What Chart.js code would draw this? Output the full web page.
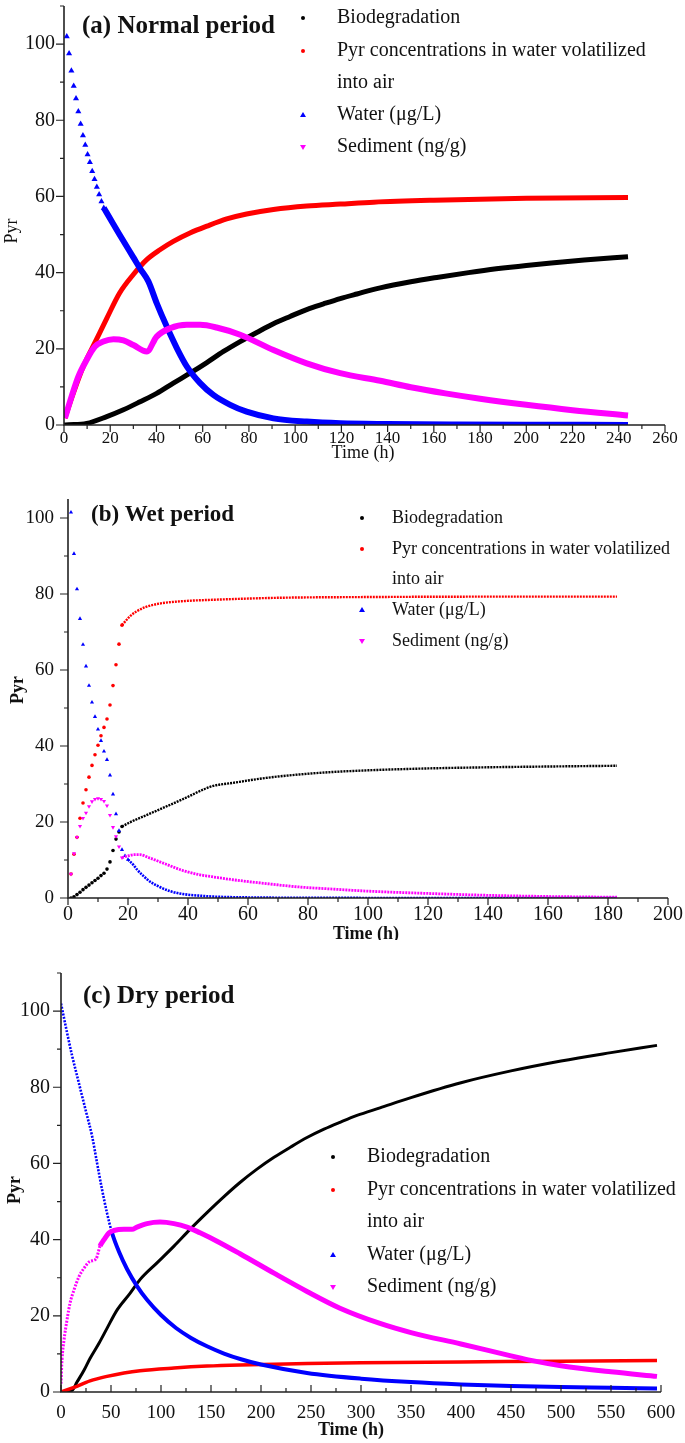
<!DOCTYPE html>
<html>
<head>
<meta charset="utf-8">
<script src="https://cdn.jsdelivr.net/npm/chart.js@4.4.1/dist/chart.umd.min.js"></script>
<style>
  html, body { margin: 0; padding: 0; background: #fff; }
  #wrap { position: relative; width: 685px; height: 1443px; }
  canvas { position: absolute; left: 0; }
</style>
</head>
<body>
<div id="wrap">
  <canvas id="chartA" width="685" height="462" style="top:0"></canvas>
  <canvas id="chartB" width="685" height="478" style="top:462px"></canvas>
  <canvas id="chartC" width="685" height="503" style="top:940px"></canvas>
</div>
<script>
const FONT = '"Liberation Serif", "Times New Roman", serif';
const BLACK = '#000000', RED = '#ff0000', BLUE = '#0000ff', MAG = '#ff00ff';

// ── (a) Normal period ── [time (h), Pyr]
const aXTicks = [0, 20, 40, 60, 80, 100, 120, 140, 160, 180, 200, 220, 240, 260];
const aYTicks = [0, 20, 40, 60, 80, 100];
const aBio = [[0,0],[2,0.05],[9.8,0.4],[18.5,2.2],[25.7,4],[32.9,6.1],[40.1,8.3],[47.3,11],[54.5,13.6],[61.8,16.4],[69,19.3],[76.2,21.9],[83.4,24.3],[90.6,26.6],[97.8,28.5],[105,30.3],[112.3,31.8],[119.5,33.2],[126.7,34.4],[136.8,36],[150,37.6],[162,38.8],[175,40],[187,41],[200,41.9],[212,42.6],[225,43.3],[244,44.2]];
const aAir = [[0.4,1.8],[4,8.3],[8.4,15.4],[14,22.4],[18.5,28],[24,34.6],[30,39.5],[35.8,43.4],[41.5,46],[47.3,48.2],[54.5,50.4],[61.8,52.2],[70.4,54.1],[79,55.4],[90.6,56.6],[105,57.5],[119.5,58],[134,58.5],[160,59],[200,59.5],[244,59.7]];
const aWaterDots = [[1.2,102],[2.2,97.5],[3.2,93],[4.2,89],[5.2,85.7],[6.2,82.3],[7.2,79],[8.2,76],[9.2,73.5],[10.2,71],[11.2,69],[12.2,66.6],[13.2,64.5],[14.2,62.5],[15.2,60.5],[16.2,58.7],[17.2,57]];
const aWater = [[17.2,57],[18.5,55.7],[24,50],[30,44],[33,41],[36.5,37.7],[40.1,32],[44.4,25.9],[48.8,20.2],[53.1,15.4],[58.9,11],[64.6,7.9],[71.9,5.3],[79,3.5],[90.6,1.75],[105,0.9],[119.5,0.45],[140,0.25],[170,0.12],[200,0.06],[244,0.03]];
const aSed = [[0.4,1.8],[3.3,7.5],[6.2,12.7],[9.8,17.1],[13.4,20.6],[17,21.9],[21.4,22.5],[25.7,22.2],[30,21],[35.8,19.3],[40.1,23.2],[45.9,25.4],[53.1,26.3],[58.9,26.3],[66,25.6],[76.2,23.7],[90.6,19.7],[105,16.2],[119.5,13.6],[136.8,11.6],[150,9.9],[165,8.3],[180,6.9],[200,5.3],[220,3.9],[244,2.5]];

// ── (b) Wet period ──
const bXTicks = [0, 20, 40, 60, 80, 100, 120, 140, 160, 180, 200];
const bYTicks = [0, 20, 40, 60, 80, 100];
const bBioDots = [[1,0],[2,0.3],[3,0.9],[4,1.5],[5,2.2],[6,2.8],[7,3.4],[8,4],[9,4.6],[10,5.2],[11,5.9],[12,6.5],[13,7.6],[14,9.5],[15,12.5],[16,15.5],[17,17.4],[18,18.8]];
const bBio = [[18,18.8],[20.6,19.9],[27,22.1],[38,25.9],[48,29.4],[55,30.3],[66,31.6],[77,32.5],[87,33.1],[100,33.6],[120,34.1],[140,34.4],[160,34.6],[183,34.8]];
const bAirDots = [[1,6.3],[2,11.5],[3,16],[4,21],[5,25],[6,28.5],[7,31.8],[8,34.9],[9,37.7],[10,40.2],[11,42.7],[12,44.9],[13,47.1],[14,50.8],[15,55.9],[16,61.4],[17,66.8],[18,71.8]];
const bAir = [[18,71.8],[20.6,74.1],[22.8,75.4],[26,76.6],[30.6,77.5],[38,78.1],[49,78.5],[70,79],[100,79.2],[140,79.3],[183,79.3]];
const bWaterDots = [[1,101.5],[2,90.6],[3,81.3],[4,73.5],[5,66.7],[6,61],[7,55.9],[8,51.5],[9,47.7],[10,44.4],[11,41.4],[12,38.6],[13,36.4],[14,32.3],[15,27.3],[16,22.1],[17,17.7],[18,12.7],[19,11.1],[20,10.1]];
const bWater = [[20,10.1],[21.7,8.8],[23,7.5],[25,5.9],[27.2,4.4],[30.6,2.9],[34,1.8],[38.3,1.05],[44,0.6],[49,0.35],[60,0.15],[80,0.05],[120,0.01],[183,0]];
const bSedDots = [[1,6.3],[2,11.7],[3,16],[4,18.9],[5,21],[6,22.4],[7,24.1],[8,25.4],[9,26],[10,26.2],[11,26],[12,25.5],[13,24.3],[14,21.8],[15,18.6],[16,16.2],[17,13.5],[18,10.6]];
const bSed = [[18,10.6],[20,11.1],[22,11.4],[24,11.4],[27,10.6],[33,8.8],[38,7.3],[44,6.1],[48,5.6],[55,4.8],[66,3.8],[77,2.9],[87,2.4],[100,1.8],[120,1.2],[140,0.7],[160,0.4],[183,0.2]];

// ── (c) Dry period ──
const cXTicks = [0, 50, 100, 150, 200, 250, 300, 350, 400, 450, 500, 550, 600];
const cYTicks = [0, 20, 40, 60, 80, 100];
const cBio = [[0,0],[11,0.4],[16,2.6],[23,5.7],[29,8.8],[38,12.8],[46,16.7],[56,21.5],[69,25.9],[79,29.5],[96,33.9],[113,38.3],[129,42.7],[146,47.1],[163,51.3],[179,55],[196,58.5],[213,61.6],[229,64.2],[246,66.8],[263,69],[279,70.8],[296,72.6],[319,74.6],[350,77.3],[400,81.2],[450,84.3],[500,86.9],[550,89.1],[596,91]];
const cAir = [[0,0],[13,1.2],[29,2.9],[46,4.1],[63,5],[79,5.6],[113,6.3],[146,6.8],[179,7.1],[213,7.3],[246,7.5],[300,7.7],[400,7.9],[500,8.1],[596,8.3]];
const cWater = [[0,102],[6,94.4],[11,88.4],[16,83.1],[21,77.8],[26,72.6],[31,67.3],[36,60.2],[41,53.2],[46,47],[51,41.8],[58,36.8],[66,32.3],[76,27.8],[86,24.2],[100,20.2],[115,16.8],[130,14.2],[146,12],[163,10.1],[180,8.6],[200,7.2],[246,5],[300,3.5],[350,2.6],[400,2],[450,1.6],[500,1.3],[550,1.1],[596,0.9]];
const cSed = [[0,2.2],[1,8.4],[3,13.6],[6,18.9],[9,23.3],[13,26.8],[18,30.3],[23,32.5],[29,34.3],[35,34.9],[39,38.3],[43,40],[48,41.8],[53,42.4],[63,42.7],[71,42.7],[76,43.3],[86,44.2],[99,44.6],[113,44.2],[126,43.3],[139,41.8],[156,39.6],[179,36.3],[213,31.2],[246,26.4],[279,22],[319,18],[350,15.6],[400,12.6],[450,9.5],[470,8.3],[500,6.9],[550,5.3],[596,4.1]];

const legendItems = [
  { lines: ['Biodegradation'], color: BLACK, style: 'circle' },
  { lines: ['Pyr concentrations in water volatilized', 'into air'], color: RED, style: 'circle' },
  { lines: ['Water (μg/L)'], color: BLUE, style: 'up' },
  { lines: ['Sediment (ng/g)'], color: MAG, style: 'down' }
];

const xy = d => d.map(([x, y]) => ({ x, y }));

function lineSet(data, color, o) {
  const ds = {
    data: xy(data), showLine: true, borderColor: color, backgroundColor: color,
    borderWidth: o.width, borderDash: o.dash || [], pointRadius: 0, pointHoverRadius: 0,
    borderJoinStyle: 'round', cubicInterpolationMode: 'monotone', order: o.order
  };
  if (o.until) {
    ds.segment = {
      borderDash: c => c.p1.parsed.x <= o.until ? o.thinDash : [],
      borderWidth: c => c.p1.parsed.x <= o.until ? o.thin : o.width
    };
  }
  return ds;
}

function dotSet(data, color, style, r, order) {
  return {
    data: xy(data), showLine: false, pointStyle: style === 'circle' ? 'circle' : 'triangle',
    pointRotation: style === 'down' ? 180 : 0, pointRadius: r, pointHoverRadius: r,
    pointBackgroundColor: color, pointBorderColor: color, pointBorderWidth: 0, order: order
  };
}

function scales(o) {
  const tickFont = size => ({ family: FONT, size: size });
  return {
    x: {
      type: 'linear', min: 0, max: o.xMax,
      afterBuildTicks: s => { s.ticks = o.xTicks.map(v => ({ value: v })); },
      afterFit: s => { s.height = o.xH; s.paddingLeft = 0; s.paddingRight = 0; },
      grid: { display: false, drawTicks: false }, border: { display: false },
      ticks: { color: '#111', font: tickFont(o.xFont), padding: o.xPad, maxRotation: 0, autoSkip: false }
    },
    y: {
      type: 'linear', min: 0, max: o.yMax,
      afterBuildTicks: s => { s.ticks = o.yTicks.map(v => ({ value: v })); },
      afterFit: s => { s.width = o.yW; s.paddingTop = 0; s.paddingBottom = 0; },
      grid: { display: false, drawTicks: false }, border: { display: false },
      ticks: { color: '#111', font: tickFont(o.yFont), padding: o.yPad, autoSkip: false }
    }
  };
}

// axes, minor/major ticks, titles and the legend
const frame = {
  id: 'frame',
  afterDraw(chart, args, o) {
    const { ctx, chartArea: ca, scales: { x, y } } = chart;
    ctx.save();
    ctx.strokeStyle = '#222';
    ctx.lineWidth = 1.6;
    ctx.beginPath();
    ctx.moveTo(ca.left, ca.top);
    ctx.lineTo(ca.left, ca.bottom);
    ctx.lineTo(ca.right, ca.bottom);
    ctx.stroke();

    ctx.lineWidth = 1.2;
    ctx.beginPath();
    for (let i = 0; i * o.xMinor <= x.max + 1e-6; i++) {
      const v = i * o.xMinor, px = x.getPixelForValue(v);
      const len = v % o.xMajor === 0 ? 7 : 4;
      ctx.moveTo(px, ca.bottom);
      ctx.lineTo(px, ca.bottom + len * o.xDir);
    }
    for (let i = 0; i * o.yMinor <= y.max + 1e-6; i++) {
      const v = i * o.yMinor, py = y.getPixelForValue(v);
      const len = v % o.yMajor === 0 ? 8 : 4;
      ctx.moveTo(ca.left, py);
      ctx.lineTo(ca.left - len, py);
    }
    ctx.stroke();

    ctx.fillStyle = '#111';
    ctx.textBaseline = 'middle';
    const t = o.title;
    ctx.textAlign = 'left';
    ctx.font = `bold ${t.size}px ${FONT}`;
    ctx.fillText(t.text, t.x, t.y);

    const xt = o.xTitle;
    ctx.textAlign = 'center';
    ctx.font = `${xt.bold ? 'bold ' : ''}${xt.size}px ${FONT}`;
    ctx.fillText(xt.text, xt.x, xt.y);

    const yt = o.yTitle;
    ctx.save();
    ctx.translate(yt.x, yt.y);
    ctx.rotate(-Math.PI / 2);
    ctx.font = `${yt.bold ? 'bold ' : ''}${yt.size}px ${FONT}`;
    ctx.fillText(yt.text, 0, 0);
    ctx.restore();

    const lg = o.legend;
    ctx.textAlign = 'left';
    ctx.font = `${lg.size}px ${FONT}`;
    let row = 0;
    legendItems.forEach(item => {
      const my = lg.rows[row];
      ctx.fillStyle = item.color;
      ctx.beginPath();
      if (item.style === 'circle') {
        ctx.arc(lg.mx, my, 2, 0, Math.PI * 2);
      } else {
        const s = 3, d = item.style === 'down' ? -1 : 1;
        ctx.moveTo(lg.mx, my - s * d);
        ctx.lineTo(lg.mx + s, my + s * 0.7 * d);
        ctx.lineTo(lg.mx - s, my + s * 0.7 * d);
        ctx.closePath();
      }
      ctx.fill();
      ctx.fillStyle = '#111';
      item.lines.forEach(line => { ctx.fillText(line, lg.tx, lg.rows[row]); row++; });
    });
    ctx.restore();
  }
};

function makeChart(id, datasets, sc, pad, fr) {
  new Chart(document.getElementById(id), {
    type: 'scatter',
    data: { datasets: datasets },
    options: {
      responsive: false, animation: false, events: [],
      layout: { padding: { left: 0, right: pad.right, top: pad.top, bottom: 0 } },
      scales: scales(sc),
      plugins: { legend: { display: false }, tooltip: { enabled: false }, frame: fr }
    },
    plugins: [frame]
  });
}

makeChart('chartA', [
  lineSet(aBio, BLACK, { width: 5, order: 4 }),
  lineSet(aAir, RED, { width: 5, order: 3 }),
  dotSet(aWaterDots, BLUE, 'up', 3.5, 2),
  lineSet(aWater, BLUE, { width: 6, order: 2 }),
  lineSet(aSed, MAG, { width: 6, order: 1 })
], { xMax: 260, yMax: 110, xTicks: aXTicks, yTicks: aYTicks, xH: 37, yW: 64, xFont: 17, yFont: 20, xPad: 3, yPad: 9 },
  { right: 20, top: 6 },
  { xMinor: 10, xMajor: 20, yMinor: 10, yMajor: 20, xDir: 1,
    title: { text: '(a) Normal period', x: 82, y: 27, size: 25 },
    xTitle: { text: 'Time (h)', x: 363, y: 453, size: 18, bold: false },
    yTitle: { text: 'Pyr', x: 12, y: 231, size: 18, bold: false },
    legend: { mx: 303, tx: 337, rows: [18, 51, 83, 115, 147], size: 20 } });

makeChart('chartB', [
  dotSet(bBioDots, BLACK, 'circle', 1.8, 4),
  lineSet(bBio, BLACK, { width: 2.4, dash: [2, 1], order: 4 }),
  dotSet(bAirDots, RED, 'circle', 1.8, 3),
  lineSet(bAir, RED, { width: 2.4, dash: [2, 1], order: 3 }),
  dotSet(bWaterDots, BLUE, 'up', 2.4, 2),
  lineSet(bWater, BLUE, { width: 2.6, dash: [2, 1], order: 2 }),
  dotSet(bSedDots, MAG, 'down', 2.4, 1),
  lineSet(bSed, MAG, { width: 2.8, dash: [2, 1], order: 1 })
], { xMax: 200, yMax: 105, xTicks: bXTicks, yTicks: bYTicks, xH: 42, yW: 68, xFont: 20, yFont: 19, xPad: 5, yPad: 14 },
  { right: 17, top: 37 },
  { xMinor: 10, xMajor: 20, yMinor: 10, yMajor: 20, xDir: 1,
    title: { text: '(b) Wet period', x: 91, y: 53, size: 23 },
    xTitle: { text: 'Time (h)', x: 366, y: 472, size: 18, bold: true },
    yTitle: { text: 'Pyr', x: 18, y: 228, size: 18, bold: true },
    legend: { mx: 362, tx: 392, rows: [56, 87, 117, 148, 179], size: 18 } });

makeChart('chartC', [
  lineSet(cBio, BLACK, { width: 3, order: 4 }),
  lineSet(cAir, RED, { width: 3.5, order: 3 }),
  lineSet(cWater, BLUE, { width: 4, order: 2, until: 52, thin: 2.6, thinDash: [2, 1.4] }),
  lineSet(cSed, MAG, { width: 5, order: 1, until: 40, thin: 3, thinDash: [2, 1.4] })
], { xMax: 600, yMax: 110, xTicks: cXTicks, yTicks: cYTicks, xH: 51, yW: 61, xFont: 19, yFont: 20, xPad: 10, yPad: 11 },
  { right: 24, top: 33 },
  { xMinor: 25, xMajor: 50, yMinor: 10, yMajor: 20, xDir: -1,
    title: { text: '(c) Dry period', x: 83, y: 57, size: 25 },
    xTitle: { text: 'Time (h)', x: 351, y: 490, size: 18, bold: true },
    yTitle: { text: 'Pyr', x: 15, y: 250, size: 18, bold: true },
    legend: { mx: 333, tx: 367, rows: [217, 250, 282, 315, 347], size: 20 } });
</script>
</body>
</html>
